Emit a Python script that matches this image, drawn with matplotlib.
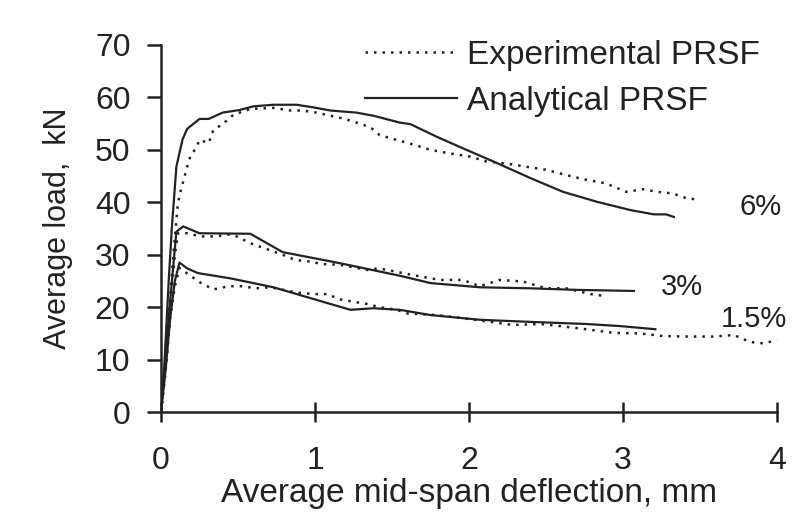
import matplotlib
matplotlib.use('Agg')
import matplotlib.pyplot as plt

plt.rcParams['font.family'] = ['Liberation Sans', 'DejaVu Sans']

# 6% fibre
ana6_x = [0, 0.02, 0.05, 0.07, 0.10, 0.14, 0.17, 0.25, 0.31, 0.40, 0.51, 0.60, 0.73, 0.88, 0.99,
          1.10, 1.27, 1.38, 1.55, 1.62, 1.79, 1.96, 2.18, 2.40, 2.61, 2.83, 3.05, 3.20, 3.28, 3.33]
ana6_y = [0, 8, 25, 35, 46.8, 52, 54, 55.9, 55.9, 57.1, 57.6, 58.3, 58.6, 58.6, 58.1,
          57.5, 57.1, 56.5, 55.2, 54.9, 52.5, 50.3, 47.5, 44.6, 42.0, 40.1, 38.5, 37.7, 37.7, 37.2]
exp6_x = [0, 0.02, 0.05, 0.08, 0.11, 0.13, 0.17, 0.19, 0.23, 0.25, 0.31, 0.34, 0.40, 0.47, 0.58,
          0.73, 0.84, 0.92, 1.01, 1.10, 1.18, 1.27, 1.36, 1.42, 1.53, 1.64, 1.75, 1.86, 2.01,
          2.11, 2.24, 2.37, 2.50, 2.63, 2.76, 2.89, 3.02, 3.13, 3.22, 3.32, 3.41, 3.49]
exp6_y = [0, 6, 18, 30, 39.9, 42.4, 46.8, 48.7, 50.5, 51.9, 51.3, 53.8, 54.9, 56.7, 57.8,
          58.0, 57.5, 57.5, 57.1, 56.5, 56.0, 55.2, 54.3, 52.8, 51.9, 51.0, 50.0, 49.4, 48.7,
          47.8, 47.4, 46.8, 46.2, 45.2, 44.3, 43.6, 42.0, 42.5, 42.0, 41.7, 40.8, 40.5]

# 3% fibre
ana3_x = [0, 0.02, 0.05, 0.08, 0.10, 0.145, 0.25, 0.58, 0.79, 1.16, 1.42, 1.55, 1.75, 2.07,
          2.40, 2.70, 3.07]
ana3_y = [0, 7, 18, 28, 34.4, 35.4, 34.1, 34.0, 30.5, 28.4, 26.8, 26.0, 24.6, 23.8,
          23.6, 23.3, 23.1]
exp3_x = [0, 0.03, 0.06, 0.09, 0.11, 0.17, 0.26, 0.35, 0.45, 0.51, 0.57, 0.79, 0.87, 0.97,
          1.05, 1.16, 1.34, 1.41, 1.47, 1.64, 1.81, 1.96, 2.07, 2.20, 2.35, 2.50, 2.63, 2.79, 2.89]
exp3_y = [0, 8, 20, 30, 34.1, 34.1, 33.5, 33.5, 33.9, 33.3, 32.3, 30.0, 29.0, 28.7,
          28.2, 28.1, 27.1, 27.4, 27.1, 26.1, 25.2, 25.2, 24.0, 25.2, 24.9, 23.6, 23.6, 22.5, 22.1]

# 1.5% fibre
ana15_x = [0, 0.03, 0.06, 0.09, 0.12, 0.17, 0.24, 0.45, 0.73, 1.23, 1.38, 1.55, 1.75, 2.07,
           2.40, 2.76, 2.98, 3.21]
ana15_y = [0, 8, 18, 25, 28.5, 27.4, 26.5, 25.5, 23.8, 19.5, 19.8, 19.5, 18.5, 17.6,
           17.2, 16.8, 16.4, 15.8]
exp15_x = [0, 0.03, 0.06, 0.09, 0.12, 0.19, 0.26, 0.34, 0.44, 0.52, 0.62, 0.71, 0.88, 0.99,
           1.08, 1.16, 1.34, 1.42, 1.53, 1.60, 1.79, 1.96, 2.14, 2.29, 2.46, 2.59, 2.76, 2.94,
           3.11, 3.26, 3.43, 3.59, 3.72, 3.82, 3.91, 4.0]
exp15_y = [0, 8, 18, 24, 27.5, 26.0, 24.6, 23.4, 24.0, 24.0, 23.6, 23.8, 22.8, 22.5,
           22.5, 21.5, 20.6, 20.0, 19.5, 18.8, 18.5, 17.9, 17.2, 16.6, 16.8, 16.4, 15.8, 15.1,
           15.0, 14.5, 14.4, 14.4, 14.7, 13.4, 13.1, 13.7]

labels = ['6%', '3%', '1.5%']
label_x = [3.89, 3.38, 3.85]
label_y = [39.1, 23.9, 17.7]

tc = '#222222'
dot = (0, (1, 2.4))

fig = plt.figure(figsize=(7.97, 5.29), dpi=100)
ax = fig.add_axes([0.202, 0.221, 0.773, 0.694])

ax.plot(exp6_x, exp6_y, color=tc, lw=1.8, ls=dot, label='Experimental PRSF')
ax.plot(ana6_x, ana6_y, color=tc, lw=1.6, label='Analytical PRSF')
ax.plot(exp3_x, exp3_y, color=tc, lw=1.8, ls=dot)
ax.plot(ana3_x, ana3_y, color=tc, lw=1.6)
ax.plot(exp15_x, exp15_y, color=tc, lw=1.8, ls=dot)
ax.plot(ana15_x, ana15_y, color=tc, lw=1.6)

for t, x, y in zip(labels, label_x, label_y):
    ax.text(x, y, t, fontsize=21, color=tc, ha='center', va='center')

ax.set_xlim(0, 4)
ax.set_ylim(0, 70)
ax.set_xticks([0, 1, 2, 3, 4])
ax.set_yticks(range(0, 71, 10))
ax.spines['top'].set_visible(False)
ax.spines['right'].set_visible(False)
for s in ['left', 'bottom']:
    ax.spines[s].set_linewidth(1.8)
    ax.spines[s].set_color(tc)
ax.tick_params(axis='x', direction='inout', length=15, width=1.8, colors=tc,
               labelsize=23, pad=17)
ax.tick_params(axis='y', direction='out', length=10, width=1.8, colors=tc,
               labelsize=23, pad=12)

ax.set_xlabel('Average mid-span deflection, mm', fontsize=24, color=tc, labelpad=1)
ax.set_ylabel('Average load,  kN', fontsize=22, color=tc, labelpad=16)

ax.legend(loc='upper left', bbox_to_anchor=(0.458, 0.925), bbox_transform=fig.transFigure,
          frameon=False, fontsize=24, borderpad=0, borderaxespad=0,
          handlelength=2.75, handletextpad=0.3, labelspacing=0.45, labelcolor=tc)

fig.savefig('out.png', dpi=100)
